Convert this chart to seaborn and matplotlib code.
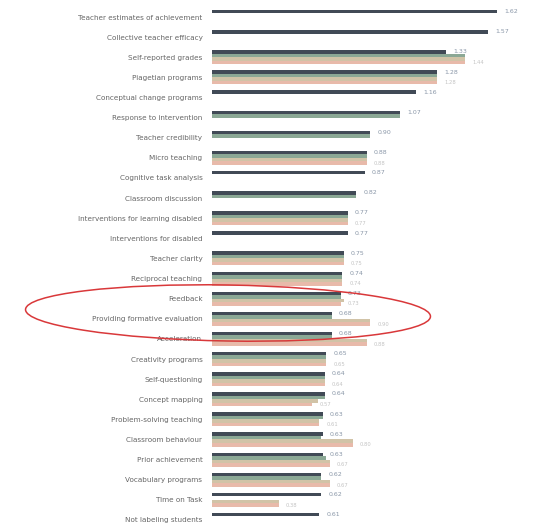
import numpy as np
import pandas as pd
import matplotlib
matplotlib.use('Agg')
import matplotlib.pyplot as plt
from matplotlib.patches import Ellipse
import seaborn as sns

# ── Data ─────────────────────────────────────────────────────────────────────
influences = [
    'Teacher estimates of achievement', 'Collective teacher efficacy',
    'Self-reported grades', 'Piagetian programs', 'Conceptual change programs',
    'Response to intervention', 'Teacher credibility', 'Micro teaching',
    'Cognitive task analysis', 'Classroom discussion',
    'Interventions for learning disabled', 'Interventions for disabled',
    'Teacher clarity', 'Reciprocal teaching', 'Feedback',
    'Providing formative evaluation', 'Acceleration', 'Creativity programs',
    'Self-questioning', 'Concept mapping', 'Problem-solving teaching',
    'Classroom behaviour', 'Prior achievement', 'Vocabulary programs',
    'Time on Task', 'Not labeling students',
]
nan = np.nan
es_2017 = [1.62, 1.57, 1.33, 1.28, 1.16, 1.07, 0.90, 0.88, 0.87, 0.82, 0.77, 0.77, 0.75,
           0.74, 0.73, 0.68, 0.68, 0.65, 0.64, 0.64, 0.63, 0.63, 0.63, 0.62, 0.62, 0.61]
es_2015 = [nan, nan, 1.44, 1.28, nan, 1.07, 0.90, 0.88, nan, 0.82, 0.77, nan, 0.75,
           0.74, 0.73, 0.68, 0.68, 0.65, 0.64, 0.64, 0.63, 0.62, 0.65, 0.62, nan, nan]
es_2012 = [nan, nan, 1.44, 1.28, nan, nan, nan, 0.88, nan, nan, 0.77, nan, 0.75,
           0.74, 0.75, 0.90, 0.88, 0.65, 0.64, 0.60, 0.61, 0.80, 0.67, 0.67, 0.38, nan]
es_2009 = [nan, nan, 1.44, 1.28, nan, nan, nan, 0.88, nan, nan, 0.77, nan, 0.75,
           0.74, 0.73, 0.90, 0.88, 0.65, 0.64, 0.57, 0.61, 0.80, 0.67, 0.67, 0.38, nan]
years = ['2017', '2015', '2012', '2009']

df = pd.DataFrame({'influence': influences, '2017': es_2017, '2015': es_2015,
                   '2012': es_2012, '2009': es_2009})
long = df.melt(id_vars='influence', var_name='year', value_name='effect')

palette = {'2017': '#3d4959', '2015': '#86ad93', '2012': '#d8c5a0', '2009': '#f2b5a0'}

# ── Plot ─────────────────────────────────────────────────────────────────────
sns.set_style('white')
fig = plt.figure(figsize=(5.33, 5.25), dpi=100)
ax = fig.add_axes([0.398, 0.0, 0.602, 1.0])
sns.barplot(data=long, y='influence', x='effect', hue='year', hue_order=years,
            order=influences, palette=palette, width=0.7, gap=0, linewidth=0,
            orient='h', errorbar=None, legend=False, ax=ax)

ax.bar_label(ax.containers[0], fmt='%.2f', padding=5, fontsize=4.5, color='#8a97a8')
ax.bar_label(ax.containers[3], fmt='%.2f', padding=5, fontsize=3.8, color='#c4c4c4')

ax.set_xlim(0, 1.824)
ax.set_ylim(25.25, -0.845)
ax.set_xlabel('')
ax.set_ylabel('')
ax.set_xticks([])
ax.tick_params(axis='y', length=0, pad=7, labelsize=5.2, labelcolor='#666666')
sns.despine(ax=ax, left=True, bottom=True)

# red hand-drawn circle around the feedback rows
fig.patches.append(Ellipse((228 / 533, 1 - 313 / 525), width=405 / 533, height=56 / 525,
                           angle=-1, transform=fig.transFigure, fill=False,
                           edgecolor='#d9383a', linewidth=1.1))

fig.savefig('out.png', dpi=100)
